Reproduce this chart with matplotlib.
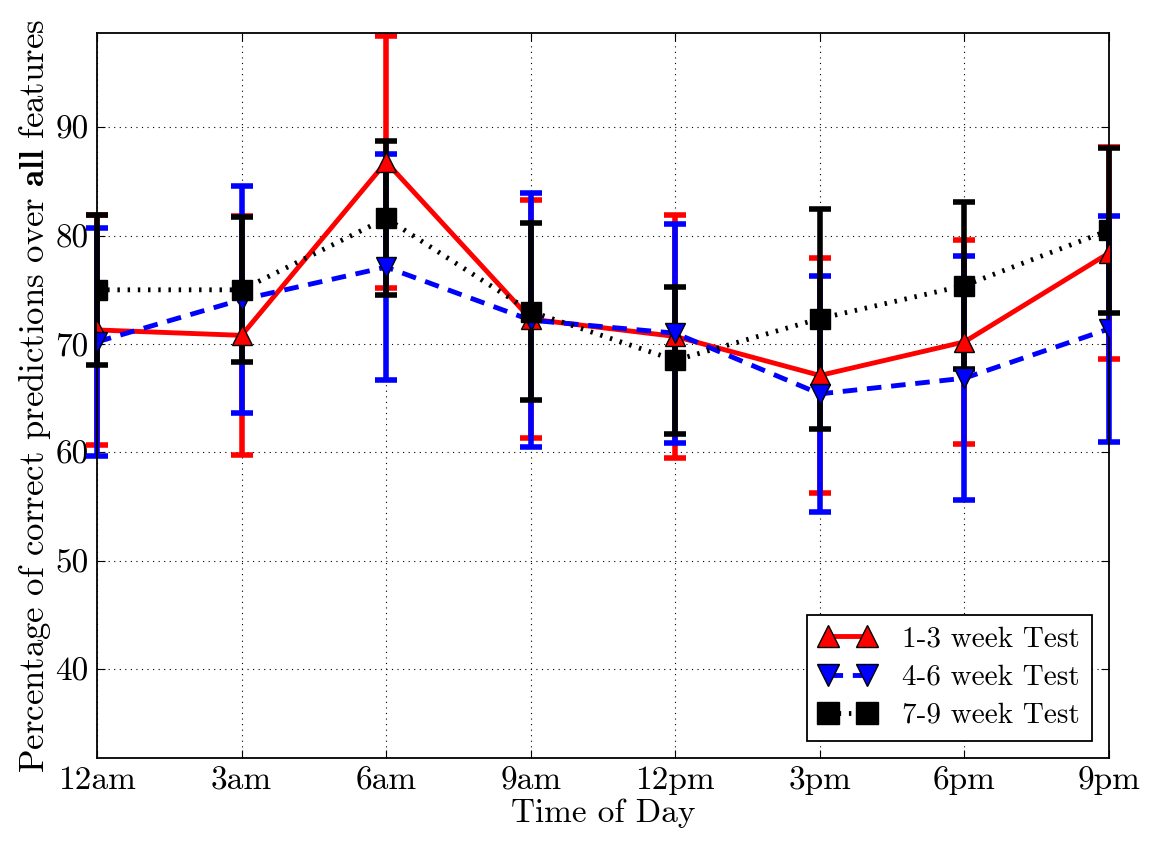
import matplotlib
matplotlib.use("Agg")
import matplotlib.pyplot as plt

# data
hours = ["12am", "3am", "6am", "9am", "12pm", "3pm", "6pm", "9pm"]
x = list(range(len(hours)))

wk13 = [71.3, 70.8, 86.8, 72.3, 70.7, 67.1, 70.2, 78.4]
wk13_err = [10.6, 11.0, 11.6, 11.0, 11.2, 10.8, 9.4, 9.8]
wk46 = [70.2, 74.1, 77.1, 72.2, 71.0, 65.4, 66.85, 71.4]
wk46_err = [10.5, 10.5, 10.4, 11.7, 10.1, 10.9, 11.25, 10.4]
wk79 = [75.0, 75.0, 81.6, 73.0, 68.5, 72.35, 75.4, 80.5]
wk79_err = [6.9, 6.7, 7.1, 8.2, 6.8, 10.15, 7.7, 7.6]

plt.rcParams['font.family'] = 'cmr10'
plt.rcParams['mathtext.fontset'] = 'cm'
plt.rcParams['axes.unicode_minus'] = False

fig = plt.figure(figsize=(11.59, 8.57), dpi=100)
ax = fig.add_axes([0.0837, 0.1155, 0.8732, 0.846])

series = [
    (wk13, wk13_err, 'red', '-', '^', '1-3 week Test'),
    (wk46, wk46_err, 'blue', (0, (3, 2)), 'v', '4-6 week Test'),
    (wk79, wk79_err, 'black', (0, (0.5, 1.6)), 's', '7-9 week Test'),
]

# error bars first, lines + markers on top
for y, e, c, ls, m, lab in series:
    ax.errorbar(x, y, yerr=e, fmt='none', ecolor=c, elinewidth=4,
                capsize=8, capthick=4, zorder=2, clip_on=False)
for y, e, c, ls, m, lab in series:
    ax.plot(x, y, color=c, linestyle=ls, linewidth=3.5, marker=m,
            markersize=14, markerfacecolor=c, markeredgecolor='black',
            markeredgewidth=1, label=lab, zorder=3)

ax.set_xlim(0, 7)
ax.set_ylim(31.8, 98.7)
ax.set_xticks(x)
ax.set_xticklabels(hours)
ax.set_yticks([40, 50, 60, 70, 80, 90])
ax.tick_params(direction='in', top=True, right=True, labelsize=24,
               length=6, pad=6)
ax.grid(True, color='black', linestyle=(0, (1, 4)), linewidth=0.8)
for s in ax.spines.values():
    s.set_linewidth(1.3)

ax.set_xlabel('Time of Day', fontsize=24, labelpad=2)
ax.set_ylabel(r'Percentage of correct predictions over $\mathbf{all}$ features',
              fontsize=25, labelpad=2)

leg = ax.legend(loc='lower right', numpoints=2, fontsize=21, handlelength=1.95,
                markerscale=1.15, fancybox=False, framealpha=1,
                borderaxespad=0.6, handletextpad=0.9, labelspacing=0.4)
leg.get_frame().set_edgecolor('black')
leg.get_frame().set_linewidth(1.3)

fig.savefig('out.png', dpi=100, facecolor='white')
